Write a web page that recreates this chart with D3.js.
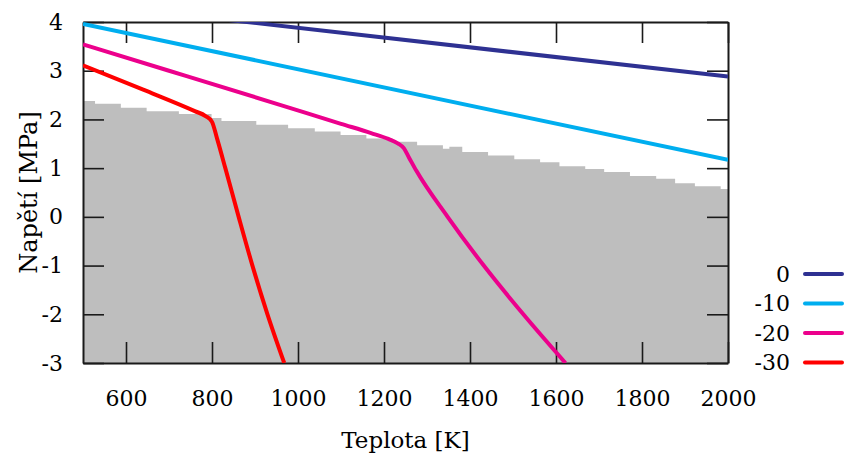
<!DOCTYPE html>
<html>
<head>
<meta charset="utf-8">
<script src="https://cdn.jsdelivr.net/npm/d3@7"></script>
<style>
  body { margin: 0; background: #fff; }
  svg text { font-family: "DejaVu Serif", serif; fill: #000; }
</style>
</head>
<body>
<svg id="chart" width="844" height="459"></svg>
<script>
// gray stepped band (start temperature of each step, value)
const stepT = [500, 528, 588, 648, 723, 799, 822, 903, 977, 1039, 1099, 1159, 1220, 1277, 1337, 1352, 1382, 1442, 1503, 1563, 1608, 1668, 1712, 1772, 1833, 1877, 1923, 1983, 2000];
const stepV = [2.38, 2.32, 2.24, 2.17, 2.11, 2.03, 1.97, 1.89, 1.82, 1.75, 1.68, 1.61, 1.54, 1.47, 1.40, 1.44, 1.33, 1.26, 1.18, 1.12, 1.04, 0.98, 0.92, 0.84, 0.78, 0.69, 0.63, 0.57, 0.57];

// curves, one per legend entry
const seriesNames = ["0", "-10", "-20", "-30"];
const t0 = [500, 2000];
const v0 = [4.38, 2.88];
const t10 = [500, 2000];
const v10 = [3.96, 1.17];
const t20 = [500, 700, 958, 1100, 1170, 1210, 1232, 1246, 1258, 1275, 1348, 1432, 1524, 1622];
const v20 = [3.54, 3.00, 2.30, 1.91, 1.72, 1.60, 1.51, 1.41, 1.22, 0.95, 0.00, -1.00, -2.00, -3.00];
const t30 = [500, 640, 760, 785, 800, 812, 831, 862, 894, 929, 968];
const v30 = [3.11, 2.61, 2.17, 2.07, 1.95, 1.60, 1.00, 0.00, -1.00, -2.00, -3.00];

const xTicks = [600, 800, 1000, 1200, 1400, 1600, 1800, 2000];
const yTicks = [-3, -2, -1, 0, 1, 2, 3, 4];

const colors = ["#2e3192", "#00aeef", "#ec008c", "#ff0000"];

const svg = d3.select("#chart");
const pLeft = 83, pRight = 728, pTop = 22, pBottom = 363;

const x = d3.scaleLinear().domain([500, 2000]).range([pLeft, pRight]);
const y = d3.scaleLinear().domain([-3, 4]).range([pBottom, pTop]);

svg.append("defs").append("clipPath").attr("id", "plot")
    .append("rect")
    .attr("x", pLeft).attr("y", pTop)
    .attr("width", pRight - pLeft).attr("height", pBottom - pTop);

// gray band
const band = stepT.map((t, i) => ({ t: t, v: stepV[i] }));
svg.append("path")
    .datum(band)
    .attr("fill", "#bebebe")
    .attr("d", d3.area()
        .curve(d3.curveStepAfter)
        .x(d => x(d.t))
        .y0(y(-3))
        .y1(d => y(d.v)));

// axes with inward ticks on all four sides
function styleAxis(g) {
    g.attr("font-family", null);
    g.select(".domain").attr("stroke", "#1a1a1a").attr("stroke-width", 2);
    g.selectAll(".tick line").attr("stroke", "#1a1a1a").attr("stroke-width", 1.6);
    g.selectAll("text").style("font-size", "22px").attr("fill", "#000");
}

const plain = d => String(d);

svg.append("g")
    .attr("transform", `translate(0,${pBottom})`)
    .call(d3.axisBottom(x).tickValues(xTicks).tickFormat(plain).tickSizeInner(-21).tickSizeOuter(0).tickPadding(27))
    .call(styleAxis);

svg.append("g")
    .attr("transform", `translate(0,${pTop})`)
    .call(d3.axisTop(x).tickValues(xTicks).tickSizeInner(-21).tickSizeOuter(0).tickFormat(""))
    .call(styleAxis);

svg.append("g")
    .attr("transform", `translate(${pLeft},0)`)
    .call(d3.axisLeft(y).tickValues(yTicks).tickFormat(plain).tickSizeInner(-21).tickSizeOuter(0).tickPadding(20))
    .call(styleAxis);

svg.append("g")
    .attr("transform", `translate(${pRight},0)`)
    .call(d3.axisRight(y).tickValues(yTicks).tickSizeInner(-21).tickSizeOuter(0).tickFormat(""))
    .call(styleAxis);

// curves
const series = [[t0, v0], [t10, v10], [t20, v20], [t30, v30]].map(([ts, vs]) =>
    ts.map((t, i) => ({ t: t, v: vs[i] })));

const line = d3.line()
    .curve(d3.curveMonotoneX)
    .x(d => x(d.t))
    .y(d => y(d.v));

svg.append("g")
    .attr("clip-path", "url(#plot)")
    .selectAll("path")
    .data(series)
    .join("path")
    .attr("fill", "none")
    .attr("stroke", (d, i) => colors[i])
    .attr("stroke-width", 4)
    .attr("stroke-linejoin", "round")
    .attr("d", line);

// axis titles
svg.append("text")
    .attr("x", (pLeft + pRight) / 2)
    .attr("y", 448)
    .attr("text-anchor", "middle")
    .style("font-size", "23px")
    .text("Teplota [K]");

svg.append("text")
    .attr("transform", `translate(37,${(pTop + pBottom) / 2}) rotate(-90)`)
    .attr("text-anchor", "middle")
    .style("font-size", "24px")
    .text("Napětí [MPa]");

// legend
const legend = svg.append("g")
    .selectAll("g")
    .data(seriesNames)
    .join("g")
    .attr("transform", (d, i) => `translate(0,${274 + i * 29.5})`);

legend.append("text")
    .attr("x", 790)
    .attr("dy", "0.35em")
    .attr("text-anchor", "end")
    .style("font-size", "22px")
    .text(d => d);

legend.append("line")
    .attr("x1", 805).attr("x2", 842)
    .attr("stroke", (d, i) => colors[i])
    .attr("stroke-width", 4)
    .attr("stroke-linecap", "round");
</script>
</body>
</html>
